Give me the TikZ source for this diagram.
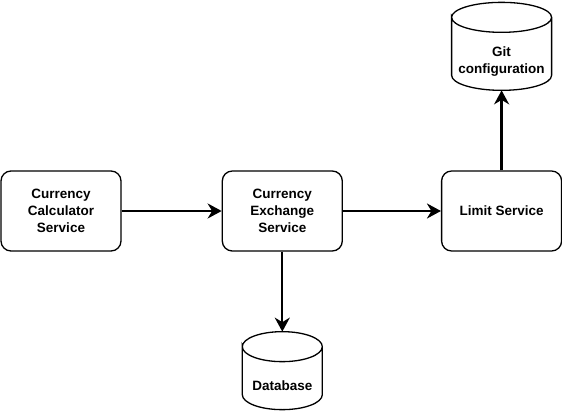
\documentclass[tikz,border=0pt]{standalone}
\usepackage{fontspec}
\setmainfont{Liberation Sans}
\usetikzlibrary{arrows.meta, positioning}

% outline of a storage cylinder round the body node #1, x radius #2
\newcommand{\storeoutline}[2]{%
    \draw[outline] ([yshift=15pt]#1.north west)
        arc[start angle=180, end angle=-180, x radius=#2, y radius=15pt]
        -- ([yshift=15pt]#1.south west)
        arc[start angle=180, end angle=360, x radius=#2, y radius=15pt]
        -- ([yshift=15pt]#1.north east);
}

\begin{document}
\begin{tikzpicture}[
            x = 1pt, y = -1pt, % pixel units
            > = {Stealth[length=14pt, width=15pt, inset=4.5pt]}, % arrow head style
            font = \fontsize{13.5}{17}\selectfont\bfseries
        ]

        \tikzstyle{service}=[
            draw = black,
            line width = 1.3pt,
            rounded corners = 10pt,
            minimum width = 120pt,
            minimum height = 80pt,
            align = center
        ]
        \tikzstyle{store}=[
            outer sep = 0pt,
            inner sep = 0pt,
            align = center
        ]
        \tikzstyle{outline}=[draw = black, line width = 1.3pt]
        \tikzstyle{link}=[->, line width = 2.3pt]

        \useasboundingbox (0,0) rectangle (562,412);

        \node[service] (calc) at (61,211) {Currency\\Calculator\\Service};
        \node[service] (exch) [right=100pt of calc] {Currency\\Exchange\\Service};
        \node[service] (limit) [right=98pt of exch] {Limit Service};
        \node[store, minimum width=100pt, minimum height=58pt] (git) [above=80pt of limit] {Git\\configuration};
        \node[store, minimum width=80pt, minimum height=48pt] (db) [below=110pt of exch] {Database};
        \coordinate (db top) at ([yshift=30pt]db.north);

        \storeoutline{git}{50pt}
        \storeoutline{db}{40pt}

        \draw[link] (calc) -- (exch);
        \draw[link] (exch) -- (limit);
        \draw[link] (exch) -- (db top);
        \draw[link] (limit) -- (git);

\end{tikzpicture}
\end{document}
